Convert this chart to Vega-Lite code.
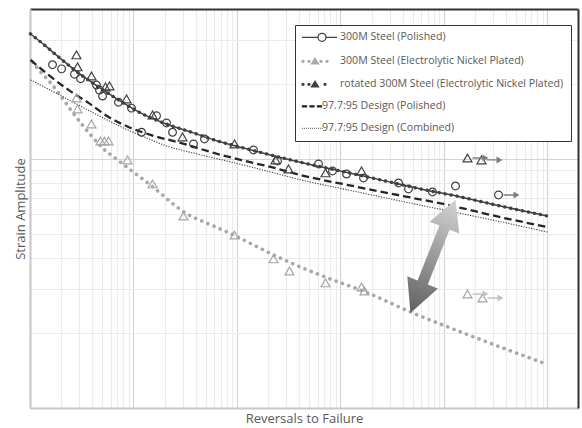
{
  "$schema": "https://vega.github.io/schema/vega-lite/v6.json",
  "width": 548,
  "height": 399,
  "autosize": {"type": "none"},
  "padding": {"left": 30, "top": 9, "right": 4, "bottom": 20},
  "background": "#ffffff",
  "config": {
    "font": "Open Sans",
    "view": {"stroke": null},
    "axis": {"labels": false, "ticks": false, "titleColor": "#595959", "titleFont": "Open Sans", "titleFontSize": 13, "titleFontWeight": "normal"}
  },
  "datasets": {
    "fits": [
      {"s": "A", "N": 101.1, "e": 3.177}, {"s": "A", "N": 141.2, "e": 2.843}, {"s": "A", "N": 188.6, "e": 2.568}, {"s": "A", "N": 294.2, "e": 2.215}, {"s": "A", "N": 459, "e": 1.946}, {"s": "A", "N": 716.3, "e": 1.726}, {"s": "A", "N": 1168.5, "e": 1.53}, {"s": "A", "N": 1950, "e": 1.395}, {"s": "A", "N": 3553, "e": 1.284}, {"s": "A", "N": 6481, "e": 1.181}, {"s": "A", "N": 11560, "e": 1.107}, {"s": "A", "N": 21070, "e": 1.038}, {"s": "A", "N": 43900, "e": 0.964}, {"s": "A", "N": 99450, "e": 0.895}, {"s": "A", "N": 243500, "e": 0.824}, {"s": "A", "N": 592900, "e": 0.758}, {"s": "A", "N": 1443000, "e": 0.704}, {"s": "A", "N": 3515000, "e": 0.647}, {"s": "A", "N": 10000000, "e": 0.59},
      {"s": "C", "N": 101.1, "e": 3.177}, {"s": "C", "N": 141.2, "e": 2.843}, {"s": "C", "N": 188.6, "e": 2.568}, {"s": "C", "N": 294.2, "e": 2.215}, {"s": "C", "N": 459, "e": 1.946}, {"s": "C", "N": 716.3, "e": 1.726}, {"s": "C", "N": 1168.5, "e": 1.53}, {"s": "C", "N": 1950, "e": 1.395}, {"s": "C", "N": 3553, "e": 1.284}, {"s": "C", "N": 6481, "e": 1.181}, {"s": "C", "N": 11560, "e": 1.107}, {"s": "C", "N": 21070, "e": 1.038}, {"s": "C", "N": 43900, "e": 0.964}, {"s": "C", "N": 99450, "e": 0.895}, {"s": "C", "N": 243500, "e": 0.824}, {"s": "C", "N": 592900, "e": 0.758}, {"s": "C", "N": 1443000, "e": 0.704}, {"s": "C", "N": 3515000, "e": 0.647}, {"s": "C", "N": 10000000, "e": 0.59},
      {"s": "D", "N": 101.1, "e": 2.498}, {"s": "D", "N": 150.9, "e": 2.174}, {"s": "D", "N": 235.5, "e": 1.893}, {"s": "D", "N": 367.5, "e": 1.679}, {"s": "D", "N": 573.4, "e": 1.475}, {"s": "D", "N": 894.9, "e": 1.344}, {"s": "D", "N": 1460, "e": 1.249}, {"s": "D", "N": 2845, "e": 1.16}, {"s": "D", "N": 5546, "e": 1.067}, {"s": "D", "N": 10810, "e": 0.991}, {"s": "D", "N": 21070, "e": 0.929}, {"s": "D", "N": 41060, "e": 0.862}, {"s": "D", "N": 146000, "e": 0.772}, {"s": "D", "N": 443900, "e": 0.704}, {"s": "D", "N": 1081000, "e": 0.654}, {"s": "D", "N": 3758000, "e": 0.58}, {"s": "D", "N": 10000000, "e": 0.533},
      {"s": "E", "N": 101.1, "e": 2.077}, {"s": "E", "N": 201.5, "e": 1.79}, {"s": "E", "N": 429.5, "e": 1.516}, {"s": "E", "N": 837, "e": 1.32}, {"s": "E", "N": 1336, "e": 1.214}, {"s": "E", "N": 1950, "e": 1.138}, {"s": "E", "N": 4153, "e": 1.047}, {"s": "E", "N": 8653, "e": 0.973}, {"s": "E", "N": 21070, "e": 0.887}, {"s": "E", "N": 38410, "e": 0.831}, {"s": "E", "N": 146000, "e": 0.737}, {"s": "E", "N": 989000, "e": 0.624}, {"s": "E", "N": 2633000, "e": 0.574}, {"s": "E", "N": 10000000, "e": 0.509},
      {"s": "B", "N": 105.7, "e": 2.452}, {"s": "B", "N": 126.3, "e": 2.236}, {"s": "B", "N": 161.4, "e": 2.001}, {"s": "B", "N": 201.5, "e": 1.774}, {"s": "B", "N": 251.8, "e": 1.559}, {"s": "B", "N": 314.5, "e": 1.382}, {"s": "B", "N": 392.8, "e": 1.237}, {"s": "B", "N": 490.7, "e": 1.117}, {"s": "B", "N": 700.6, "e": 0.991}, {"s": "B", "N": 1460, "e": 0.786}, {"s": "B", "N": 3180, "e": 0.607}, {"s": "B", "N": 5929, "e": 0.538}, {"s": "B", "N": 9251, "e": 0.495}, {"s": "B", "N": 22530, "e": 0.412}, {"s": "B", "N": 41060, "e": 0.368}, {"s": "B", "N": 74880, "e": 0.333}, {"s": "B", "N": 182400, "e": 0.29}, {"s": "B", "N": 474600, "e": 0.243}, {"s": "B", "N": 1543000, "e": 0.2}, {"s": "B", "N": 9150000, "e": 0.1516}
    ],
    "pts": [
      {"g": "P", "N": 165, "e": 2.39}, {"g": "P", "N": 202, "e": 2.3}, {"g": "P", "N": 269, "e": 2.19}, {"g": "P", "N": 308, "e": 2.1}, {"g": "P", "N": 439, "e": 1.98}, {"g": "P", "N": 469, "e": 1.89}, {"g": "P", "N": 502, "e": 1.79}, {"g": "P", "N": 716, "e": 1.69}, {"g": "P", "N": 957, "e": 1.6}, {"g": "P", "N": 1195, "e": 1.28}, {"g": "P", "N": 1669, "e": 1.49}, {"g": "P", "N": 2084, "e": 1.395}, {"g": "P", "N": 2382, "e": 1.28}, {"g": "P", "N": 3799, "e": 1.149}, {"g": "P", "N": 4853, "e": 1.203}, {"g": "P", "N": 14430, "e": 1.087}, {"g": "P", "N": 24620, "e": 0.982}, {"g": "P", "N": 61300, "e": 0.955}, {"g": "P", "N": 83700, "e": 0.895}, {"g": "P", "N": 114300, "e": 0.87}, {"g": "P", "N": 166900, "e": 0.839}, {"g": "P", "N": 363400, "e": 0.801}, {"g": "P", "N": 453900, "e": 0.758}, {"g": "P", "N": 774300, "e": 0.737}, {"g": "P", "N": 1291500, "e": 0.779}, {"g": "P", "N": 3362000, "e": 0.717},
      {"g": "R", "N": 281, "e": 2.617}, {"g": "R", "N": 288, "e": 2.342}, {"g": "R", "N": 393, "e": 2.154}, {"g": "R", "N": 536, "e": 1.946}, {"g": "R", "N": 586, "e": 1.964}, {"g": "R", "N": 856, "e": 1.742}, {"g": "R", "N": 1527, "e": 1.502}, {"g": "R", "N": 2974, "e": 1.226}, {"g": "R", "N": 9460, "e": 1.149}, {"g": "R", "N": 23550, "e": 0.991}, {"g": "R", "N": 31450, "e": 0.912}, {"g": "R", "N": 71630, "e": 0.879}, {"g": "R", "N": 159560, "e": 0.895}, {"g": "R", "N": 1687000, "e": 1.009}, {"g": "R", "N": 2303000, "e": 0.991},
      {"g": "G", "N": 281, "e": 1.758}, {"g": "G", "N": 288, "e": 1.588}, {"g": "G", "N": 393, "e": 1.382}, {"g": "G", "N": 480, "e": 1.181}, {"g": "G", "N": 525, "e": 1.181}, {"g": "G", "N": 573, "e": 1.181}, {"g": "G", "N": 875, "e": 0.991}, {"g": "G", "N": 1527, "e": 0.794}, {"g": "G", "N": 3041, "e": 0.59}, {"g": "G", "N": 9460, "e": 0.495}, {"g": "G", "N": 22520, "e": 0.397}, {"g": "G", "N": 32160, "e": 0.355}, {"g": "G", "N": 71630, "e": 0.318}, {"g": "G", "N": 159560, "e": 0.306}, {"g": "G", "N": 170600, "e": 0.295}, {"g": "G", "N": 1687000, "e": 0.287}, {"g": "G", "N": 2355000, "e": 0.2765}
    ],
    "runouts": [
      {"c": "dark", "N": 1687000, "e": 1.009}, {"c": "dark", "N": 2303000, "e": 0.991}, {"c": "dark", "N": 3362000, "e": 0.717},
      {"c": "light", "N": 1687000, "e": 0.287}, {"c": "light", "N": 2355000, "e": 0.2765}
    ],
    "bigarrow": [{"N": 782900, "e": 0.406}]
  },
  "encoding": {
    "x": {"field": "N", "type": "quantitative", "scale": {"type": "log", "domain": [100, 19710000], "nice": false}, "axis": null},
    "y": {"field": "e", "type": "quantitative", "scale": {"type": "log", "domain": [0.1, 4], "nice": false}, "axis": null}
  },
  "resolve": {"axis": {"x": "independent", "y": "independent"}},
  "layer": [
    {
      "data": {"values": []},
      "mark": {"type": "point", "filled": false, "opacity": 1},
      "encoding": {
        "color": {"field": "s", "type": "nominal",
          "scale": {"domain": ["A", "B", "C", "D", "E"], "range": ["#404040", "#a8a8a8", "#404040", "#262626", "#404040"]},
          "legend": {
            "orient": "none", "legendX": 265, "legendY": 16, "title": null,
            "padding": 7, "strokeColor": "#333333", "fillColor": "#ffffff",
            "labelFont": "Open Sans", "labelFontSize": 10.6, "labelColor": "#595959", "labelLimit": 400,
            "labelOffset": 28, "symbolOffset": -4, "rowPadding": 11, "symbolSize": 4, "symbolStrokeWidth": 1.3,
            "labelExpr": "datum.label === 'A' ? '300M Steel (Polished)' : datum.label === 'B' ? '300M Steel (Electrolytic Nickel Plated)' : datum.label === 'C' ? 'rotated 300M Steel (Electrolytic Nickel Plated)' : datum.label === 'D' ? '97.7:95 Design (Polished)' : '97.7:95 Design (Combined)'",
            "encoding": {
              "labels": {"x": {"value": {"expr": "datum.value === 'D' || datum.value === 'E' ? 20 : 38"}}},
              "symbols": {"x": {"value": 1}}
            }
          }},
        "fill": {"field": "s", "type": "nominal",
          "scale": {"domain": ["A", "B", "C", "D", "E"], "range": ["#ffffff", "#a8a8a8", "#404040", "#262626", "transparent"]}},
        "shape": {"field": "s", "type": "nominal",
          "scale": {"domain": ["A", "B", "C", "D", "E"], "range": [
            "M-1,0H15M23,0H34M23,0A4,4 0 1,1 15,0A4,4 0 1,1 23,0",
            "M1,0A1,1 0 1,1 -1,0A1,1 0 1,1 1,0ZM7,0A1,1 0 1,1 5,0A1,1 0 1,1 7,0ZM12,-3L15.5,2.6H8.5ZM19,0A1,1 0 1,1 17,0A1,1 0 1,1 19,0ZM25,0A1,1 0 1,1 23,0A1,1 0 1,1 25,0Z",
            "M1,0A1,1 0 1,1 -1,0A1,1 0 1,1 1,0ZM7,0A1,1 0 1,1 5,0A1,1 0 1,1 7,0ZM12,-3L15.5,2.6H8.5ZM23,0A1,1 0 1,1 21,0A1,1 0 1,1 23,0Z",
            "M-0.5,-0.45H3.5V0.45H-0.5ZM7,-0.45H11V0.45H7ZM14.5,-0.45H18.5V0.45H14.5Z",
            "M-1,0h0.7M1,0h0.7M3,0h0.7M5,0h0.7M7,0h0.7M9,0h0.7M11,0h0.7M13,0h0.7M15,0h0.7M17,0h0.7M19,0h0.7"
          ]}}
      }
    },
    {
      "data": {"name": "fits"},
      "transform": [{"filter": "datum.s === 'B'"}],
      "mark": {"type": "line", "interpolate": "monotone", "strokeWidth": 3.6, "strokeCap": "round", "strokeDash": [0.1, 6.6]},
      "encoding": {
        "x": {"field": "N", "type": "quantitative", "scale": {"type": "log", "domain": [100, 19710000], "nice": false},
          "axis": {"orient": "bottom", "title": "Reversals to Failure", "titlePadding": 4, "domainColor": "#c8c8c8", "domainWidth": 2, "grid": true, "gridColor": "#ebebeb", "gridWidth": 1.2,
            "values": [200,300,400,500,600,700,800,900,2000,3000,4000,5000,6000,7000,8000,9000,20000,30000,40000,50000,60000,70000,80000,90000,200000,300000,400000,500000,600000,700000,800000,900000,2000000,3000000,4000000,5000000,6000000,7000000,8000000,9000000]}},
        "y": {"field": "e", "type": "quantitative", "scale": {"type": "log", "domain": [0.1, 4], "nice": false},
          "axis": {"orient": "left", "title": "Strain Amplitude", "titlePadding": 3, "domainColor": "#c8c8c8", "domainWidth": 2, "grid": true, "gridColor": "#ebebeb", "gridWidth": 1.2,
            "values": [0.2,0.3,0.4,0.5,0.6,0.7,0.8,0.9,2,3]}},
        "color": {"field": "s", "type": "nominal", "legend": null}
      }
    },
    {
      "data": {"name": "fits"},
      "transform": [{"filter": "datum.s === 'E'"}],
      "mark": {"type": "line", "interpolate": "monotone", "strokeWidth": 1.1, "strokeDash": [1.2, 1.4]},
      "encoding": {
        "color": {"field": "s", "type": "nominal", "legend": null},
        "x": {"field": "N", "type": "quantitative", "scale": {"type": "log", "domain": [100, 19710000], "nice": false},
          "axis": {"orient": "bottom", "title": null, "domain": false, "grid": true, "gridColor": "#d4d4d4", "gridWidth": 1.2, "values": [100, 1000, 10000, 100000, 1000000, 10000000]}},
        "y": {"field": "e", "type": "quantitative", "scale": {"type": "log", "domain": [0.1, 4], "nice": false},
          "axis": {"orient": "left", "title": null, "domain": false, "grid": true, "gridColor": "#d4d4d4", "gridWidth": 1.2, "values": [0.1, 1]}}
      }
    },
    {
      "data": {"name": "fits"},
      "transform": [{"filter": "datum.s === 'D'"}],
      "mark": {"type": "line", "interpolate": "monotone", "strokeWidth": 2.3, "strokeDash": [7.5, 4]},
      "encoding": {"color": {"field": "s", "type": "nominal", "legend": null}}
    },
    {
      "data": {"name": "fits"},
      "transform": [{"filter": "datum.s === 'C'"}],
      "mark": {"type": "line", "interpolate": "monotone", "strokeWidth": 3.4, "strokeCap": "round", "strokeDash": [0.1, 6]},
      "encoding": {"color": {"field": "s", "type": "nominal", "legend": null}}
    },
    {
      "data": {"name": "fits"},
      "transform": [{"filter": "datum.s === 'A'"}],
      "mark": {"type": "line", "interpolate": "monotone", "strokeWidth": 1.5},
      "encoding": {"color": {"field": "s", "type": "nominal", "legend": null}}
    },
    {
      "data": {"name": "pts"},
      "transform": [{"filter": "datum.g === 'G'"}],
      "mark": {"type": "point", "shape": "triangle-up", "filled": false, "size": 80, "stroke": "#a6a6a6", "strokeWidth": 1.2, "opacity": 1}
    },
    {
      "data": {"name": "pts"},
      "transform": [{"filter": "datum.g === 'R'"}],
      "mark": {"type": "point", "shape": "triangle-up", "filled": false, "size": 80, "stroke": "#404040", "strokeWidth": 1.2, "opacity": 1}
    },
    {
      "data": {"name": "pts"},
      "transform": [{"filter": "datum.g === 'P'"}],
      "mark": {"type": "point", "shape": "circle", "filled": false, "size": 60, "stroke": "#404040", "strokeWidth": 1.2, "opacity": 1}
    },
    {
      "data": {"name": "runouts"},
      "transform": [{"filter": "datum.c === 'dark'"}],
      "mark": {"type": "point", "shape": "M5,-0.7H15V-3.5L21,0L15,3.5V0.7H5Z", "size": 4, "filled": true, "opacity": 1, "strokeWidth": 0, "fill": "#808080"}
    },
    {
      "data": {"name": "runouts"},
      "transform": [{"filter": "datum.c === 'light'"}],
      "mark": {"type": "point", "shape": "M5,-0.7H15V-3.5L21,0L15,3.5V0.7H5Z", "size": 4, "filled": true, "opacity": 1, "strokeWidth": 0, "fill": "#c4c4c4"}
    },
    {
      "data": {"name": "bigarrow"},
      "mark": {"type": "point", "shape": "M0,-61L16,-31L5.5,-31L5.5,28L16.5,28L0,61L-16.5,28L-5.5,28L-5.5,-31L-16,-31Z", "size": 4, "angle": 21.7, "filled": true, "opacity": 1, "strokeWidth": 0,
        "fill": {"gradient": "linear", "x1": 0, "y1": 0, "x2": 0, "y2": 1, "stops": [{"offset": 0, "color": "#d4d4d4"}, {"offset": 1, "color": "#606060"}]}},
      "encoding": {
        "x": {"field": "N", "type": "quantitative", "scale": {"type": "log", "domain": [100, 19710000], "nice": false},
          "axis": {"orient": "top", "title": null, "grid": false, "domainColor": "#333333", "domainWidth": 2}},
        "y": {"field": "e", "type": "quantitative", "scale": {"type": "log", "domain": [0.1, 4], "nice": false},
          "axis": {"orient": "right", "title": null, "grid": false, "domainColor": "#333333", "domainWidth": 2}}
      }
    }
  ]
}
